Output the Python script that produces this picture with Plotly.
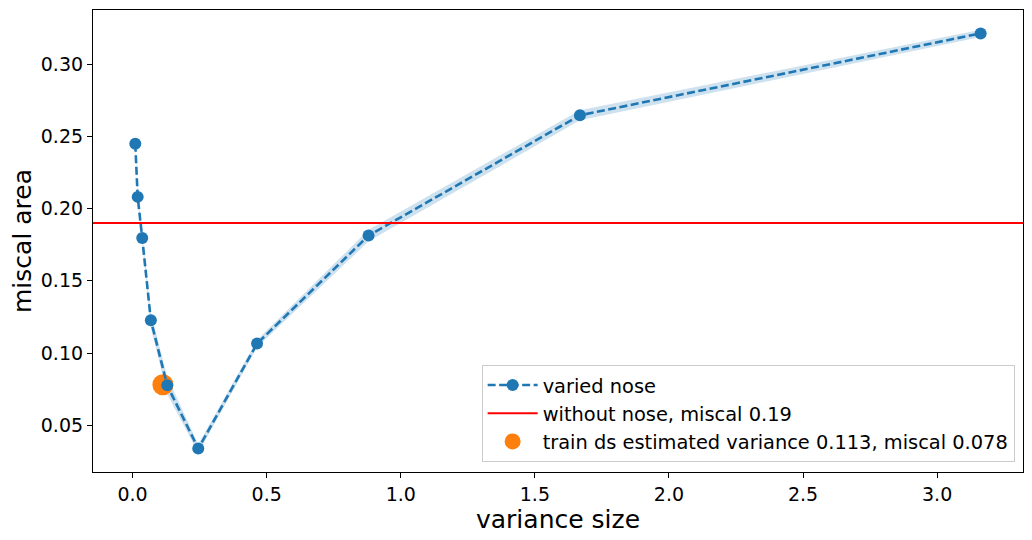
import plotly.graph_objects as go

# noise variance sweep (log spaced) and resulting miscalibration area
variance = [0.01, 0.01896, 0.03594, 0.06813, 0.12915, 0.24484, 0.46416, 0.87992, 1.66810, 3.16228]
miscal = [0.2449, 0.2081, 0.1796, 0.1227, 0.0776, 0.0338, 0.1065, 0.1813, 0.2646, 0.3213]
miscal_std = [0.0030, 0.0025, 0.0030, 0.0050, 0.0060, 0.0030, 0.0025, 0.0040, 0.0035, 0.0025]

baseline_miscal = 0.19
train_variance = [0.113]
train_miscal = [0.078]

blue = "#1f77b4"
font = "DejaVu Sans, Liberation Sans, sans-serif"

lower = [m - s for m, s in zip(miscal, miscal_std)]
upper = [m + s for m, s in zip(miscal, miscal_std)]

fig = go.Figure()

# std band
fig.add_trace(go.Scatter(x=variance, y=lower, mode="lines", line=dict(width=0),
                         showlegend=False, hoverinfo="skip"))
fig.add_trace(go.Scatter(x=variance, y=upper, mode="lines", line=dict(width=0),
                         fill="tonexty", fillcolor="rgba(31,119,180,0.22)",
                         showlegend=False, hoverinfo="skip"))

fig.add_trace(go.Scatter(x=train_variance, y=train_miscal, mode="markers",
                         name="train ds estimated variance 0.113, miscal 0.078",
                         marker=dict(color="#ff7f0e", size=21), legendrank=3))

fig.add_trace(go.Scatter(x=variance, y=miscal, mode="lines+markers", name="varied nose",
                         line=dict(color=blue, width=2.6, dash="8px,3.5px"),
                         marker=dict(color=blue, size=12), legendrank=1))

# legend entry for the baseline line
fig.add_trace(go.Scatter(x=[None], y=[None], mode="lines", name="without nose, miscal 0.19",
                         line=dict(color="red", width=2), legendrank=2))
fig.add_hline(y=baseline_miscal, line=dict(color="red", width=2))

axis_common = dict(showline=True, linecolor="black", linewidth=1.2, mirror=True,
                   ticks="outside", ticklen=5, tickcolor="black", showgrid=False,
                   zeroline=False, automargin=False, tickfont=dict(size=19, color="black"))

fig.update_xaxes(range=[-0.1476, 3.3202], tickvals=[0, 0.5, 1, 1.5, 2, 2.5, 3],
                 ticktext=["0.0", "0.5", "1.0", "1.5", "2.0", "2.5", "3.0"],
                 title=dict(text="variance size", font=dict(size=25, color="black"), standoff=4),
                 **axis_common)
fig.update_yaxes(range=[0.0176, 0.3375], tickvals=[0.05, 0.10, 0.15, 0.20, 0.25, 0.30],
                 tickformat=".2f",
                 title=dict(text="miscal area", font=dict(size=25, color="black"), standoff=8),
                 **axis_common)

# the page body keeps its 8px default margin, so the figure is sized to fit inside it
fig.update_layout(
    width=1024, height=532,
    margin=dict(l=85, r=9, t=2, b=68),
    plot_bgcolor="white", paper_bgcolor="white",
    font=dict(family=font, color="black"),
    legend=dict(x=0.991, y=0.022, xanchor="right", yanchor="bottom",
                bgcolor="rgba(255,255,255,0.8)", bordercolor="#cccccc", borderwidth=1,
                font=dict(size=19.4), itemwidth=50, traceorder="normal"),
)

fig.write_html("out.html")
